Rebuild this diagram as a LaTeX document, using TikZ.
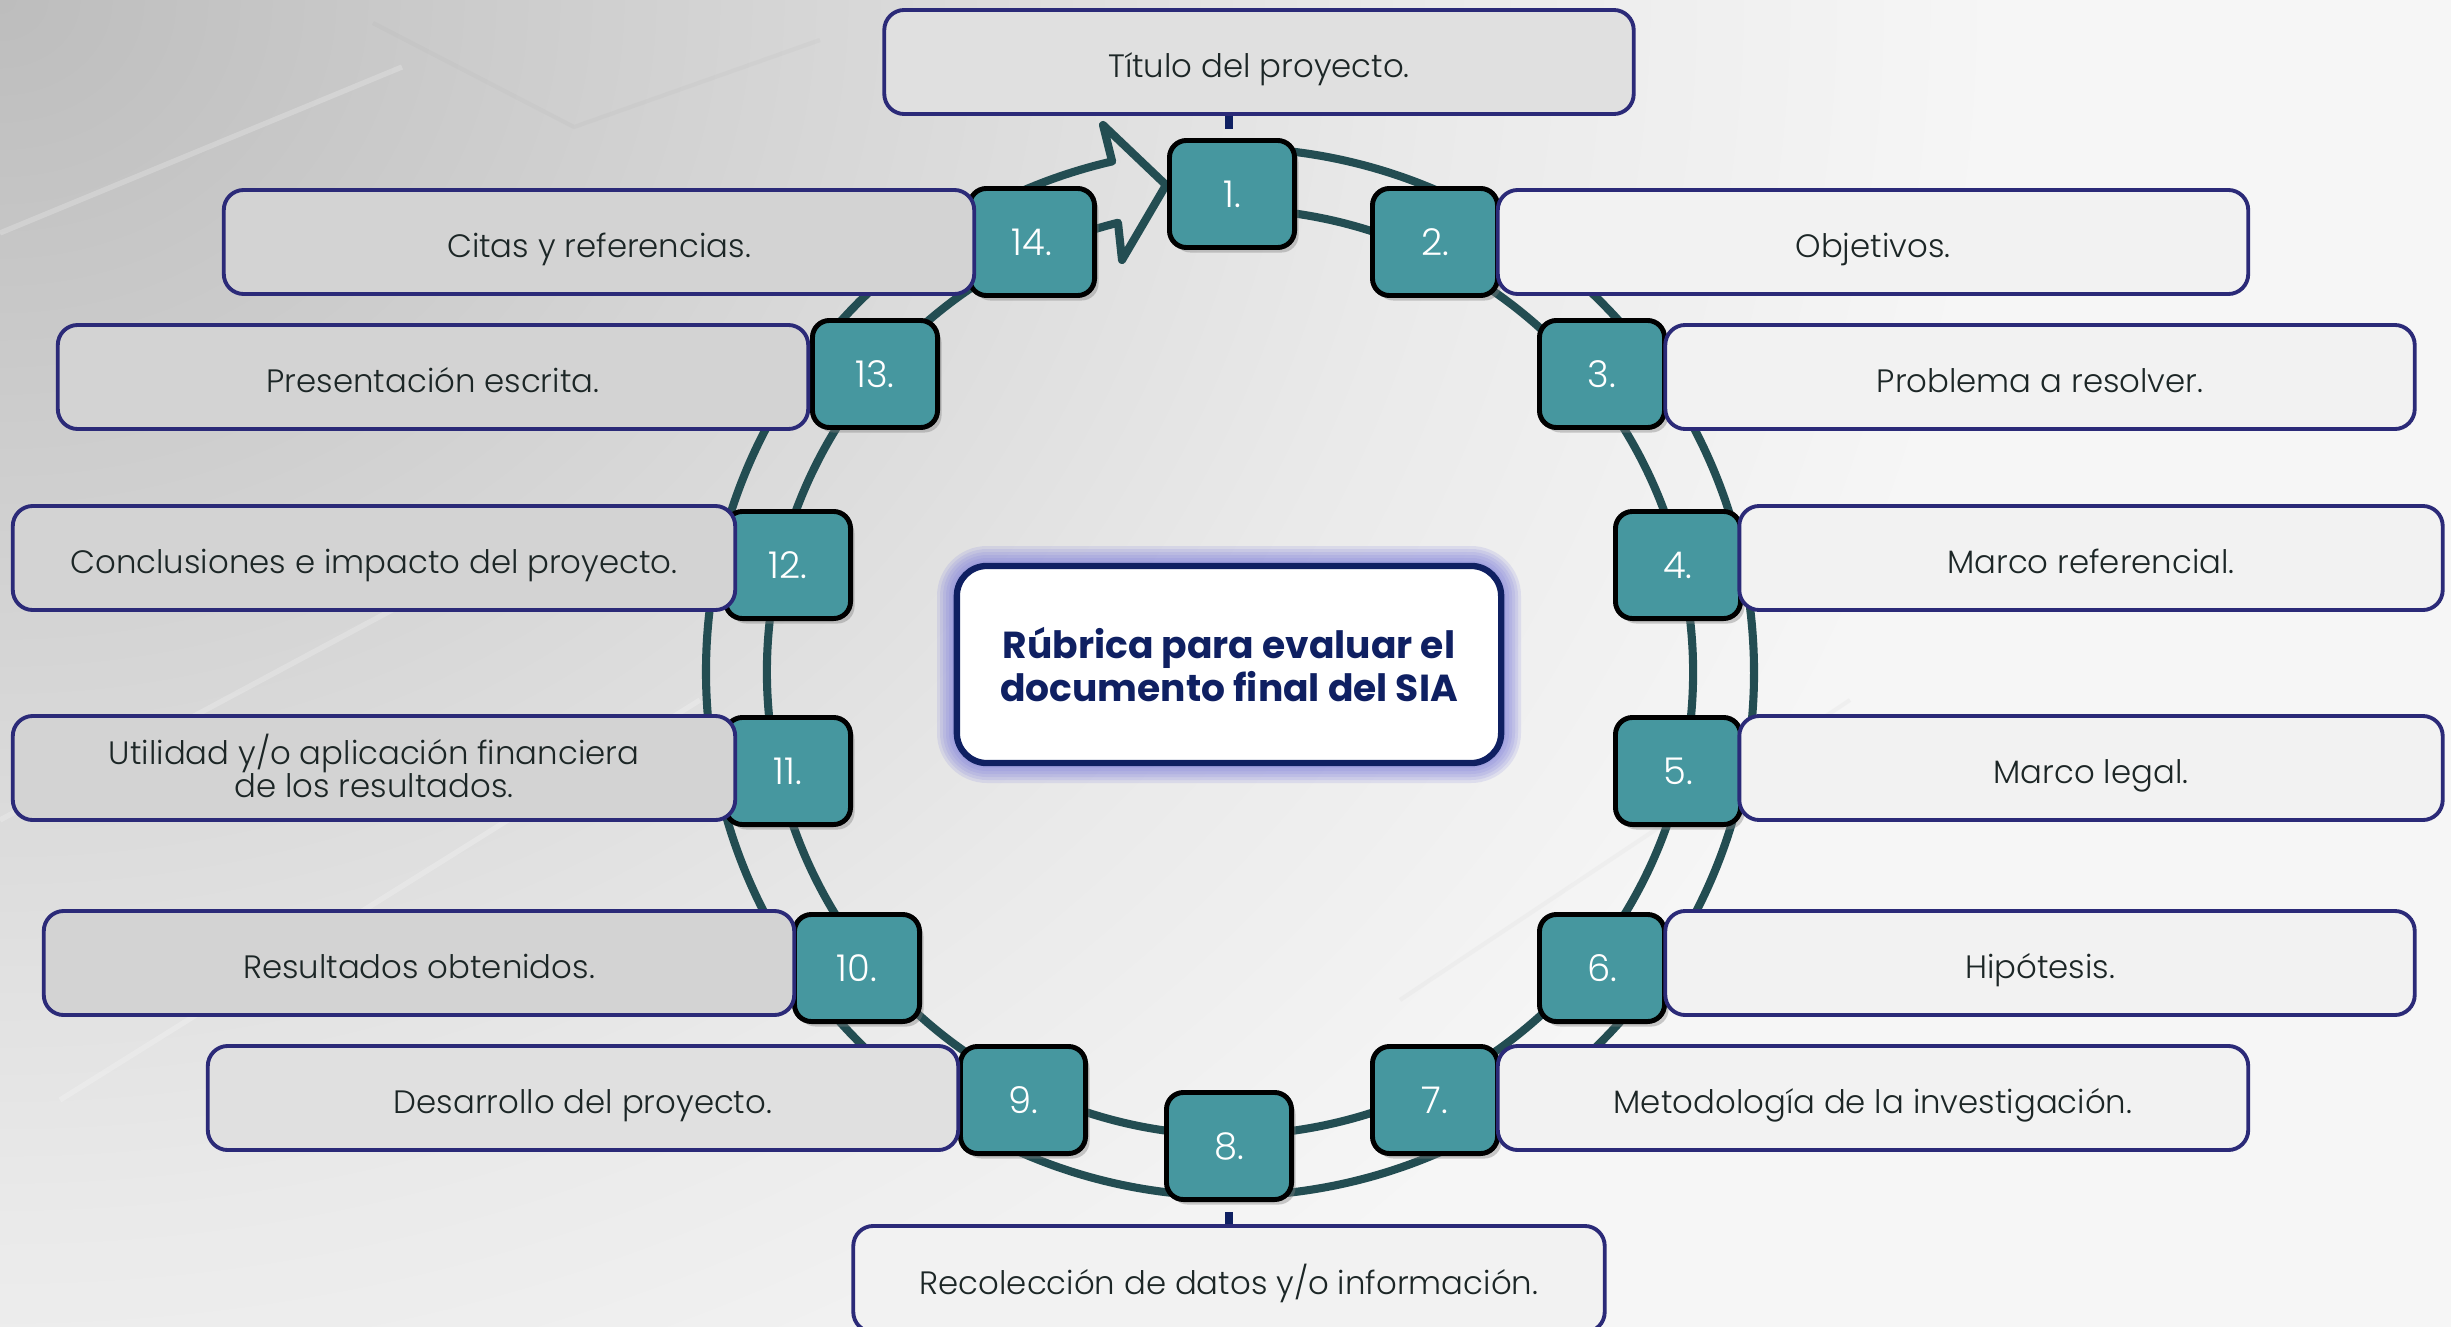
\documentclass[tikz,border=0pt]{standalone}
\usepackage{fontspec}
\setmainfont{Poppins}
\newfontfamily\lightf{Poppins Light}
\usetikzlibrary{shadows}
\definecolor{ringc}{HTML}{234D52}
\definecolor{numfill}{HTML}{46979F}
\definecolor{lblborder}{HTML}{2B2A78}
\definecolor{navy}{HTML}{0F2062}
\definecolor{glowc}{HTML}{7C7CDB}
\definecolor{txt}{HTML}{1C2626}
\definecolor{lfill}{HTML}{D3D3D3}
\definecolor{mfill}{HTML}{E0E0E0}
\definecolor{rfill}{HTML}{F2F2F2}
\definecolor{bgA}{HTML}{BDBDBD}
\definecolor{bgB}{HTML}{D6D6D6}
\definecolor{bgC}{HTML}{EAEAEA}
\definecolor{bgD}{HTML}{F6F6F6}
\pgfdeclareradialshading{bgrad}{\pgfpoint{0bp}{0bp}}{color(0bp)=(bgA); color(10bp)=(bgB); color(18bp)=(bgC); color(25bp)=(bgD); color(50bp)=(bgD)}
\begin{document}
\begin{tikzpicture}[x=0.01cm, y=0.01cm,
  numbox/.style={draw=black, line width=1.4pt, fill=numfill, rounded corners=0.17cm,
    minimum width=1.25cm, minimum height=1.07cm, inner sep=0pt, text=white,
    font=\lightf\fontsize{10.5}{12}\selectfont,
    drop shadow={shadow xshift=0.04cm, shadow yshift=-0.05cm, opacity=0.4}},
  lblbox/.style={draw=lblborder, line width=1.1pt, rounded corners=0.2cm,
    minimum height=1.04cm, inner sep=0pt, text=txt, align=center,
    text height=8.8pt, text depth=0pt,
    font=\lightf\fontsize{9.2}{9.4}\selectfont},
  ringline/.style={draw=ringc, line width=2.3pt, line join=round},
  bgline/.style={white, line width=1.5pt, opacity=0.22},
  stub/.style={draw=navy, line width=2pt}]

% background
\fill[bgD] (0,0) rectangle (2451,-1327);
\begin{scope}
  \clip (0,0) rectangle (2451,-1327);
  \shade[shading=bgrad] (0,0) ellipse (2000 and 1700);
  \draw[bgline] (0,-233) -- (402,-67);
  \draw[bgline] (0,-820) -- (560,-520);
  \draw[bgline] (60,-1100) -- (700,-700);
  \draw[gray, line width=1.2pt, opacity=0.05] (373,-23) -- (574,-127) -- (820,-40);
  \draw[gray, line width=1.2pt, opacity=0.05] (1400,-1000) -- (1850,-700);
\end{scope}
\useasboundingbox (0,0) rectangle (2451,-1327);

% ring with arrow head
\draw[ringline] ([shift={(1230,-672)}]95:524) arc[start angle=95, end angle=-257, radius=524]
  -- (1103,-125) -- (1166,-185) -- (1122,-260)
  -- ([shift={(1230,-672)}]-256:463) arc[start angle=-256, end angle=95, radius=463] -- cycle;

% number boxes
\node[numbox] (n1) at (1232,-194) {1.};
\node[numbox] (n2) at (1435,-242) {2.};
\node[numbox] (n3) at (1602,-374) {3.};
\node[numbox] (n4) at (1678,-565) {4.};
\node[numbox] (n5) at (1678,-771) {5.};
\node[numbox] (n6) at (1602,-968) {6.};
\node[numbox] (n7) at (1435,-1100) {7.};
\node[numbox] (n8) at (1229,-1146) {8.};
\node[numbox] (n9) at (1023,-1100) {9.};
\node[numbox] (n10) at (857,-968) {10.};
\node[numbox] (n11) at (788,-771) {11.};
\node[numbox] (n12) at (788,-565) {12.};
\node[numbox] (n13) at (875,-374) {13.};
\node[numbox] (n14) at (1032,-242) {14.};

% label boxes
\node[lblbox, fill=mfill, minimum width=7.49cm] (t1) at (1259,-62) {Título del proyecto.};
\node[lblbox, fill=rfill, minimum width=7.50cm] (t2) at (1873,-242) {Objetivos.};
\node[lblbox, fill=rfill, minimum width=7.49cm] (t3) at (2040,-377) {Problema a resolver.};
\node[lblbox, fill=rfill, minimum width=7.03cm] (t4) at (2091,-558) {Marco referencial.};
\node[lblbox, fill=rfill, minimum width=7.03cm] (t5) at (2091,-768) {Marco legal.};
\node[lblbox, fill=rfill, minimum width=7.49cm] (t6) at (2040,-963) {Hipótesis.};
\node[lblbox, fill=rfill, minimum width=7.50cm] (t7) at (1873,-1098) {Metodología de la investigación.};
\node[lblbox, fill=rfill, minimum width=7.51cm, minimum height=1.06cm] (t8) at (1229,-1279) {Recolección de datos y/o información.};
\node[lblbox, fill=mfill, minimum width=7.50cm] (t9) at (583,-1098) {Desarrollo del proyecto.};
\node[lblbox, fill=lfill, minimum width=7.50cm] (t10) at (419,-963) {Resultados obtenidos.};
\node[lblbox, fill=lfill, minimum width=7.22cm, text height=17pt] (t11) at (374,-768) {Utilidad y/o aplicación financiera\\de los resultados.};
\node[lblbox, fill=lfill, minimum width=7.22cm] (t12) at (374,-558) {Conclusiones e impacto del proyecto.};
\node[lblbox, fill=lfill, minimum width=7.50cm] (t13) at (433,-377) {Presentación escrita.};
\node[lblbox, fill=lfill, minimum width=7.50cm] (t14) at (599,-242) {Citas y referencias.};

% stubs
\coordinate (s1) at (1229,-129);
\draw[stub] (s1 |- t1.south) -- (s1);
\coordinate (s8) at (1229,-1212);
\draw[stub] (s8) -- (s8 |- t8.north);

% center glow
\foreach \g in {2,5,8,11,14,17,20}
  \fill[glowc, opacity=0.16, rounded corners=0.3cm+\g*0.01cm] (957-\g,-566+\g) rectangle (1501+\g,-763-\g);
\node[draw=navy, line width=1.8pt, fill=white, rounded corners=0.3cm,
  minimum width=5.44cm, minimum height=1.97cm, align=center, text=navy,
  font=\bfseries\fontsize{10.7}{12}\selectfont] (c) at (1229,-664.5)
  {Rúbrica para evaluar el\\documento final del SIA};
\end{tikzpicture}
\end{document}
